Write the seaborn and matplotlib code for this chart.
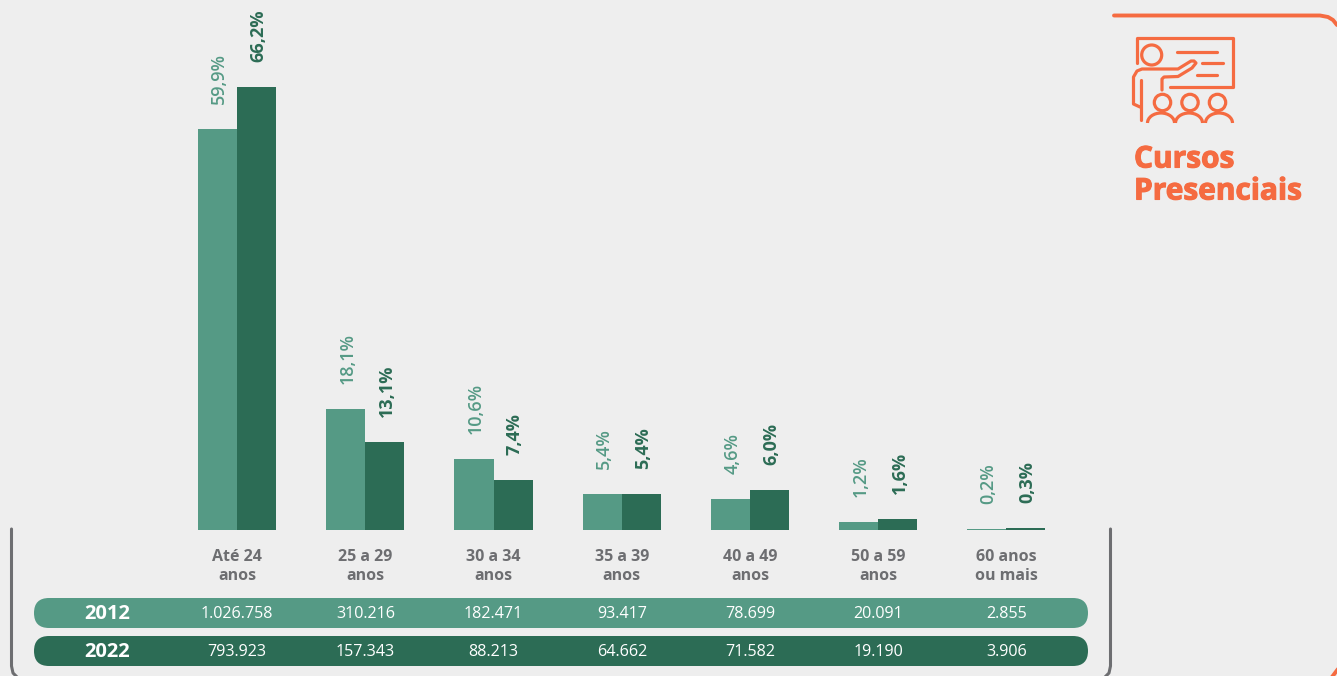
import pandas as pd
import seaborn as sns
import matplotlib
matplotlib.use("Agg")
import matplotlib.pyplot as plt
import matplotlib.patheffects as pe
from matplotlib.patches import FancyBboxPatch, Circle, Arc
from matplotlib.transforms import blended_transform_factory

# dados do grafico
faixas = ["Até 24\nanos", "25 a 29\nanos", "30 a 34\nanos", "35 a 39\nanos",
          "40 a 49\nanos", "50 a 59\nanos", "60 anos\nou mais"]
pct_2012 = [59.9, 18.1, 10.6, 5.4, 4.6, 1.2, 0.2]
pct_2022 = [66.2, 13.1, 7.4, 5.4, 6.0, 1.6, 0.3]
total_2012 = ["1.026.758", "310.216", "182.471", "93.417", "78.699", "20.091", "2.855"]
total_2022 = ["793.923", "157.343", "88.213", "64.662", "71.582", "19.190", "3.906"]
anos = ["2012", "2022"]

VERDE_CLARO = "#559a85"
VERDE_ESCURO = "#2c6c55"
LARANJA = "#f56b41"
CINZA = "#6d6e71"
FUNDO = "#eeeeee"
W, H = 1337, 676

sns.set_theme(style="white")
plt.rcParams["font.family"] = ["Open Sans", "DejaVu Sans"]

df = pd.DataFrame({
    "faixa": faixas * 2,
    "ano": [anos[0]] * 7 + [anos[1]] * 7,
    "pct": pct_2012 + pct_2022,
})

fig = plt.figure(figsize=(W / 100, H / 100), dpi=100, facecolor=FUNDO)

# camada em pixels para o que nao e barra
over = fig.add_axes([0, 0, 1, 1])
over.set_xlim(0, W)
over.set_ylim(H, 0)
over.axis("off")

# area das barras
ax = fig.add_axes([173 / W, (H - 530) / H, (1070.5 - 173) / W, 530 / H])
ax.patch.set_alpha(0)
sns.barplot(data=df, x="faixa", y="pct", hue="ano", order=faixas, hue_order=anos,
            palette=[VERDE_CLARO, VERDE_ESCURO], width=0.61, gap=0, saturation=1,
            linewidth=0, edgecolor="none", legend=False, ax=ax)
ax.set_xlim(-0.5, 6.5)
ax.set_ylim(0, 530 / 6.69)
ax.axis("off")

for cont, cor, peso in zip(ax.containers, [VERDE_CLARO, VERDE_ESCURO], ["semibold", "bold"]):
    rotulos = [f"{b.get_height():.1f}".replace(".", ",") + "%" for b in cont]
    textos = ax.bar_label(cont, labels=rotulos, rotation=90, padding=18, color=cor,
                          fontsize=13, fontweight=peso, clip_on=False)
    # centra o texto girado sobre a barra
    for t in textos:
        t.set_rotation_mode("anchor")
        t.set_ha("left")
        t.set_va("center")
        t.xyann = (1.3, 18)

# x em categoria, y em pixels
trans = blended_transform_factory(ax.transData, over.transData)
for i, rotulo in enumerate(faixas):
    over.text(i, 566.5, rotulo, transform=trans, ha="center", va="center", color=CINZA,
              fontsize=11.5, fontweight="bold", linespacing=1.32)

# linhas da tabela
for ano, valores, cor, y0 in zip(anos, [total_2012, total_2022],
                                 [VERDE_CLARO, VERDE_ESCURO], [598, 636]):
    over.add_patch(FancyBboxPatch((34, y0), 1054, 30, boxstyle="round,pad=0,rounding_size=15",
                                  fc=cor, ec="none"))
    over.text(107, y0 + 16, ano, ha="center", va="center", color="white",
              fontsize=14.5, fontweight="bold")
    for i, v in enumerate(valores):
        over.text(i, y0 + 16.5, v, transform=trans, ha="center", va="center",
                  color="white", fontsize=11.6)

# colchete cinza
over.plot([11.5, 11.5, 13, 18, 1104, 1109, 1110.5, 1110.5],
          [529, 666, 673, 678, 678, 673, 666, 529],
          color=CINZA, lw=2.2, solid_capstyle="round", solid_joinstyle="round")

# moldura laranja
lin = dict(color=LARANJA, solid_capstyle="round", solid_joinstyle="round", clip_on=True)
over.plot([1114, 1320, 1328, 1333, 1337], [15.5, 15.5, 17, 20, 25], lw=2.8, **lin)
over.plot([1332, 1335, 1338], [677, 673, 669], lw=2.8, **lin)

# icone (lousa, professor e alunos)
ic = dict(lw=2.3, **lin)
over.plot([1136.7, 1136.7, 1232.5, 1232.5, 1169.5], [63, 38, 38, 86.5, 86.5], **ic)
over.plot([1177, 1217], [51.7, 51.7], **ic)
over.plot([1202, 1222.5], [62.7, 62.7], **ic)
over.plot([1197, 1217], [74.5, 74.5], **ic)
over.add_patch(Circle((1151.7, 55), 10, fc="none", ec=LARANJA, lw=2.3))
# braco e corpo
over.plot([1162, 1162, 1164, 1178, 1192, 1196, 1194, 1191, 1178, 1142, 1137, 1133.5, 1133.5, 1140],
          [90, 79, 77, 76.5, 68, 63, 61, 61, 69, 69, 71, 77, 104, 107], **ic)
over.plot([1141, 1141], [80, 119.5], **ic)
for cx in [1162.5, 1190, 1217.5]:
    over.add_patch(Circle((cx, 102.5), 8.2, fc="none", ec=LARANJA, lw=2.3))
for cx in [1161, 1189, 1219]:
    over.add_patch(Arc((cx, 123), 27, 20, theta1=180, theta2=360, ec=LARANJA, lw=2.3))

# titulo mais pesado com contorno
contorno = [pe.withStroke(linewidth=0.8, foreground=LARANJA)]
over.text(1134, 159.5, "Cursos", ha="left", va="center", color=LARANJA,
          fontsize=21.5, fontweight="bold", path_effects=contorno)
over.text(1134, 191.5, "Presenciais", ha="left", va="center", color=LARANJA,
          fontsize=21.5, fontweight="bold", path_effects=contorno)

fig.savefig("out.png", dpi=100, facecolor=FUNDO)
